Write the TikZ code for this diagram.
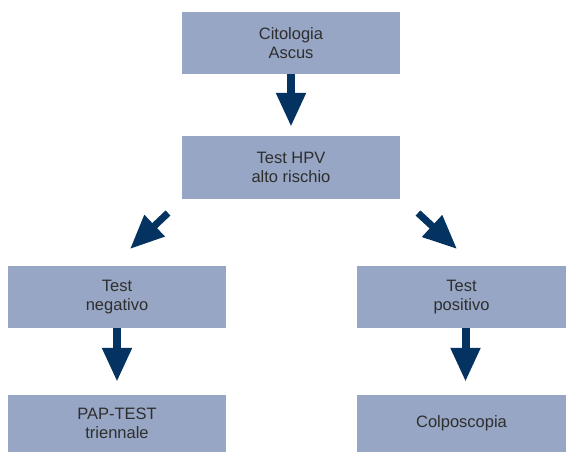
\documentclass[tikz,border=0pt]{standalone}
\usepackage{fontspec}
\setmainfont{Liberation Sans}
\usetikzlibrary{arrows.meta}
\definecolor{boxblue}{HTML}{97A6C4}
\definecolor{arrowblue}{HTML}{053361}
\definecolor{txt}{HTML}{2E2E2E}

\begin{document}
\begin{tikzpicture}[x=1pt, y=-1pt,
  box/.style={fill=boxblue, text=txt, align=center, inner sep=0pt,
    font=\fontsize{16.5}{19}\selectfont},
  fat/.style={draw=arrowblue, line width=8pt,
    -{Triangle[width=28pt, length=34pt, fill=arrowblue]}}]

\useasboundingbox (0,0) rectangle (566,452);

\node[box, minimum width=218pt, minimum height=62pt] (cito) at (291,43) {Citologia\\Ascus};
\node[box, minimum width=218pt, minimum height=63pt] (hpv) at (291,167.5) {Test HPV\\alto rischio};
\node[box, minimum width=218pt, minimum height=62pt] (neg) at (117,297) {Test\\negativo};
\node[box, minimum width=209pt, minimum height=62pt] (pos) at (461.5,297) {Test\\positivo};
\node[box, minimum width=218pt, minimum height=57pt] (pap) at (117,423.5) {PAP-TEST\\triennale};
\node[box, minimum width=209pt, minimum height=57pt] (colpo) at (461.5,423.5) {Colposcopia};

% arrows
\draw[fat, shorten >=9pt] (cito) -- (hpv);
\coordinate (l0) at (168,213);
\coordinate (l1) at (130,249);
\coordinate (r0) at (418,213);
\coordinate (r1) at (457,249);
\draw[fat, line width=7pt] (l0) -- (l1);
\draw[fat, line width=7pt] (r0) -- (r1);
\draw[fat, shorten >=13pt] (neg.south) -- (pap.north);
\draw[fat, shorten >=13pt] ([xshift=4pt]pos.south) -- ([xshift=4pt]colpo.north);

\end{tikzpicture}
\end{document}
